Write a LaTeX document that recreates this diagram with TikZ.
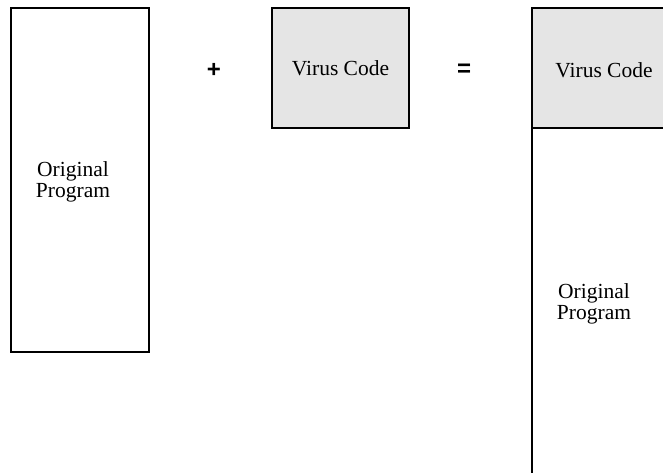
\documentclass[tikz,border=0pt]{standalone}
\usepackage{fontspec}
\setmainfont{Liberation Serif}
\newfontfamily\opfont{Liberation Sans}
\definecolor{codegray}{RGB}{229,229,229}
\begin{document}
\begin{tikzpicture}[x=1pt,y=-1pt,
  box/.style={draw=black, line width=1.4pt, inner sep=0pt, outer sep=0pt, anchor=north west},
  vbox/.style={box, fill=codegray},
  lbl/.style={font=\fontsize{21.5}{21}\selectfont, align=center, inner sep=0pt},
  op/.style={font=\opfont\bfseries\fontsize{24}{24}\selectfont, inner sep=0pt}]
\useasboundingbox (0,0) rectangle (663,472);
\clip (0,0) rectangle (663,472);
% host program on its own
\node[box, minimum width=138, minimum height=344] (orig) at (11,8) {};
\node[lbl] (origtxt) at (73,182) {Original\\Program};
% the virus code
\node[op] (plus) at (214,70) {+};
\node[vbox, minimum width=137, minimum height=120] (virus) at (272,8) {};
\node[lbl] (virustxt) at (virus.center) {Virus Code};
\node[op] (equals) at (464,70) {=};
% infected program: virus code prepended to the host
\node[box, minimum width=138, minimum height=420] (host) at (532,128) {};
\node[vbox, minimum width=138, minimum height=120] (head) at (532,8) {};
\draw[line width=2.6pt] (head.south west) -- (head.south east);
\node[lbl] (headtxt) at (604,70) {Virus Code};
\node[lbl] (hosttxt) at (594,304) {Original\\Program};
\end{tikzpicture}
\end{document}
